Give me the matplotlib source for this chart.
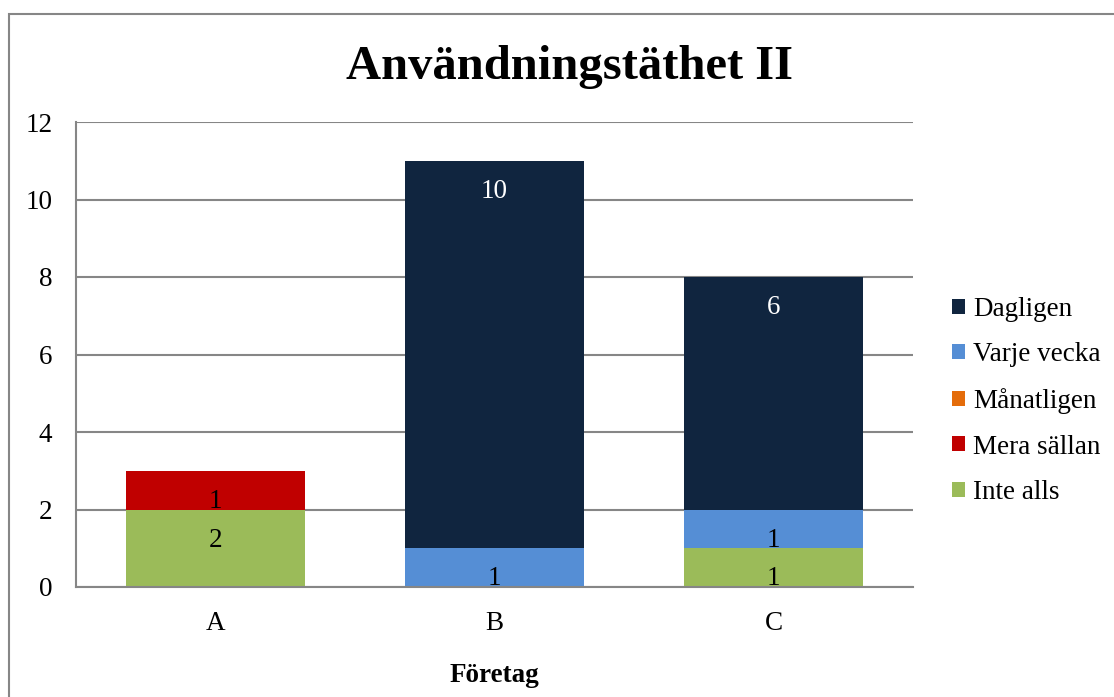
import numpy as np
import matplotlib
matplotlib.use('Agg')
import matplotlib.pyplot as plt
from matplotlib.patches import Rectangle

plt.rcParams['font.family'] = ['Liberation Serif', 'DejaVu Serif']

companies = ['A', 'B', 'C']
series = ['Inte alls', 'Mera sällan', 'Månatligen', 'Varje vecka', 'Dagligen']
inte_alls = [2, 0, 1]
mera_sallan = [1, 0, 0]
manatligen = [0, 0, 0]
varje_vecka = [0, 1, 1]
dagligen = [0, 10, 6]

colors = ['#9BBB59', '#C00000', '#E46C0A', '#558ED5', '#10253F']
label_colors = ['black', 'black', 'black', 'black', 'white']

fig = plt.figure(figsize=(11.14, 6.97), dpi=100)
ax = fig.add_axes([76 / 1114, 1 - 587 / 697, (913 - 76) / 1114, (587 - 122) / 697])

# outer frame of the chart (cut off at right/bottom like the reference)
fig.patches.append(Rectangle((9 / 1114, -0.1), 1.2, 1 - 14 / 697 + 0.1,
                             transform=fig.transFigure, fill=False,
                             edgecolor='#868686', linewidth=1.5))

x = np.arange(len(companies))
bottom = np.zeros(len(companies))
handles = []
for name, vals, col, lc in zip(series, [inte_alls, mera_sallan, manatligen, varje_vecka, dagligen],
                               colors, label_colors):
    vals = np.array(vals, dtype=float)
    # zero segments are not drawn (nan)
    b = ax.bar(x, np.where(vals > 0, vals, np.nan), 0.645, bottom=bottom, color=col,
               label=name, linewidth=0, zorder=3)
    handles.append(b)
    for xi, v, bt in zip(x, vals, bottom):
        if v > 0:
            ax.annotate(str(int(v)), (xi, bt + v), xytext=(0, -22), textcoords='offset points',
                        ha='center', va='center', fontsize=19.5, color=lc, zorder=4)
    bottom += vals

ax.set_xlim(-0.5, 2.5)
ax.set_ylim(0, 12)
ax.set_yticks(range(0, 13, 2))
ax.set_xticks(x)
ax.set_xticklabels(companies)
ax.tick_params(axis='both', length=0, labelsize=19.5)
ax.tick_params(axis='y', pad=17)
ax.tick_params(axis='x', pad=17)
ax.grid(axis='y', color='#868686', linewidth=1.5, zorder=0)
for s in ['top', 'right']:
    ax.spines[s].set_visible(False)
for s in ['left', 'bottom']:
    ax.spines[s].set_color('#868686')
    ax.spines[s].set_linewidth(1.5)
    ax.spines[s].set_zorder(5)

ax.set_xlabel('Företag', fontsize=19.5, fontweight='bold', labelpad=20)
fig.text(570 / 1114, 1 - 67 / 697, 'Användningstäthet II', ha='center', va='center',
         fontsize=35, fontweight='bold')

ax.legend(handles[::-1], series[::-1], loc='center left', bbox_to_anchor=(1.034, 0.40),
          frameon=False, fontsize=19.5, handlelength=0.48, handleheight=0.48,
          handletextpad=0.3, labelspacing=0.76, borderaxespad=0)

fig.savefig('out.png', dpi=100)
